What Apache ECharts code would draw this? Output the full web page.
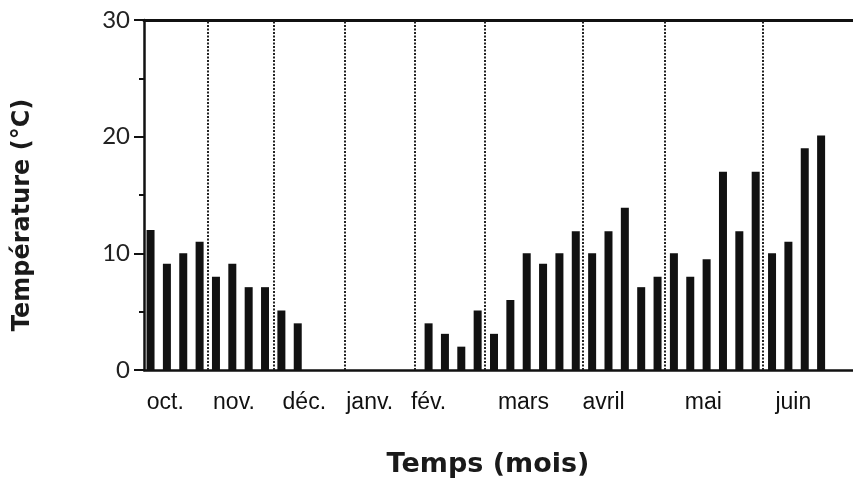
<!DOCTYPE html>
<html lang="fr">
<head>
    <meta charset="UTF-8">
    <title>Température hebdomadaire</title>
    <script src="https://cdn.jsdelivr.net/npm/echarts/dist/echarts.min.js"></script>
    <style>
        html,body{margin:0;padding:0;background:#fff}
        #main{width:853px;height:489px}
    </style>
</head>
<body>
<div id="main"></div>
<script>
    // une barre par semaine, d'octobre à juin (null = pas de mesure)
    var temps = [12, 9.1, 10, 11, 8, 9.1, 7.1, 7.1, 5.1, 4,
        null, null, null, null, null, null, null,
        4, 3.1, 2, 5.1,
        3.1, 6, 10, 9.1, 10, 11.9,
        10, 11.9, 13.9, 7.1, 8,
        10, 8, 9.5, 17, 11.9, 17,
        10, 11, 19, 20.1];
    var monthNames = ['oct.', 'nov.', 'déc.', 'janv.', 'fév.', 'mars', 'avril', 'mai', 'juin'];
    // position des noms de mois et des séparations, en semaines
    var monthCentres = [0.9, 5.1, 9.4, 13.4, 17.0, 22.8, 27.7, 33.8, 39.3];
    var monthBounds = [3.52, 7.52, 11.86, 16.14, 20.45, 26.45, 31.46, 37.45];

    var barData = [];
    for (var i = 0; i < temps.length; i++) {
        if (temps[i] != null) barData.push([i, temps[i]]);
    }
    var sepLines = [];
    for (var j = 0; j < monthBounds.length; j++) {
        sepLines.push({xAxis: monthBounds[j]});
    }

    var chart = echarts.init(document.getElementById('main'));
    chart.setOption({
        animation: false,
        grid: {left: 144, right: 0, top: 20, bottom: 119},
        xAxis: [{
            type: 'value',
            min: -0.4,
            max: 42.95,
            axisLine: {show: true, lineStyle: {color: '#111', width: 2.5}},
            axisTick: {show: false},
            splitLine: {show: false},
            axisLabel: {
                customValues: monthCentres,
                margin: 21,
                fontFamily: 'Liberation Sans',
                fontSize: 23,
                color: '#111',
                formatter: function (v) {
                    var k = monthCentres.indexOf(v);
                    return k >= 0 ? monthNames[k] : '';
                }
            }
        }, {
            // trait du haut
            type: 'value',
            position: 'top',
            min: -0.4,
            max: 42.95,
            axisLine: {show: true, lineStyle: {color: '#111', width: 3}},
            axisTick: {show: false},
            axisLabel: {show: false},
            splitLine: {show: false}
        }],
        yAxis: {
            type: 'value',
            min: 0,
            max: 30,
            interval: 10,
            axisLine: {show: true, onZero: false, lineStyle: {color: '#111', width: 2.5}},
            axisTick: {show: true, length: 10, lineStyle: {color: '#111', width: 2}},
            minorTick: {show: true, splitNumber: 2, length: 5, lineStyle: {color: '#111', width: 2}},
            splitLine: {show: false},
            axisLabel: {margin: 14, fontFamily: 'Lato', fontSize: 24, color: '#222'}
        },
        series: [{
            type: 'bar',
            data: barData,
            barWidth: 8,
            itemStyle: {color: '#111'},
            markLine: {
                silent: true,
                symbol: 'none',
                label: {show: false},
                lineStyle: {color: '#222', type: [2, 1.5], width: 2},
                data: sepLines
            }
        }],
        graphic: [{
            type: 'text',
            x: 23,
            y: 215,
            rotation: Math.PI / 2,
            style: {
                text: 'Température (°C)',
                fontFamily: 'DejaVu Sans',
                fontWeight: 'bold',
                fontSize: 24,
                fill: '#1a1a1a',
                align: 'center',
                verticalAlign: 'middle'
            }
        }, {
            type: 'text',
            x: 488,
            y: 465,
            style: {
                text: 'Temps (mois)',
                fontFamily: 'DejaVu Sans',
                fontWeight: 'bold',
                fontSize: 27,
                fill: '#1a1a1a',
                align: 'center',
                verticalAlign: 'middle'
            }
        }]
    });
</script>
</body>
</html>
